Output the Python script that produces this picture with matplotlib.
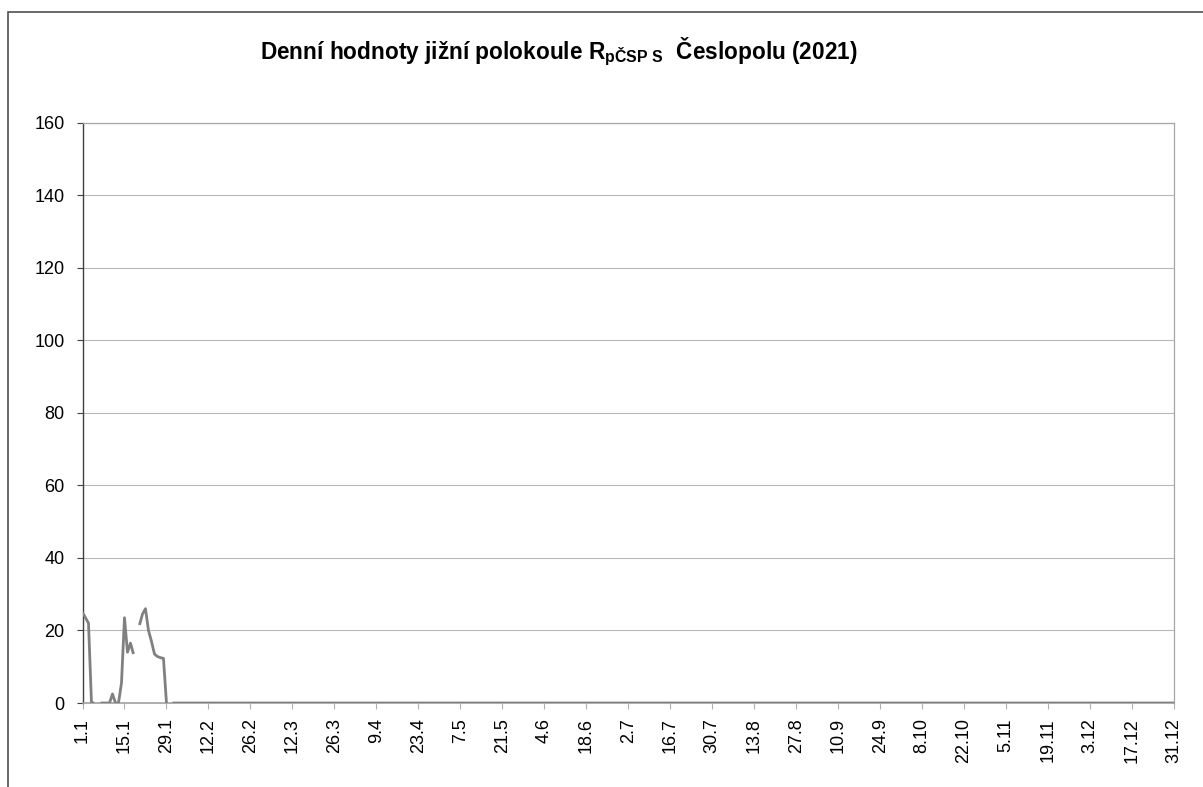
"""Daily values chart: southern hemisphere R index, 2021."""

import numpy as np
import matplotlib
matplotlib.use("Agg")
import matplotlib.pyplot as plt
from matplotlib.patches import Rectangle

plt.rcParams["font.family"] = ["Liberation Sans", "DejaVu Sans"]
plt.rcParams["mathtext.fontset"] = "custom"
plt.rcParams["mathtext.bf"] = "Liberation Sans:bold"
plt.rcParams["mathtext.rm"] = "Liberation Sans"

# --- data -----------------------------------------------------------------
# daily values for 1.1. - 29.1. (None = missing day), day 30 missing,
# then zero for the rest of the year
early_values = [25.0, 23.5, 22.0, 0.0, 0.0, None, 0.0, 0.0, 0.0, 0.0,
                2.5, 0.0, 0.0, 5.5, 23.5, 14.0, 16.5, 13.5, None, 21.5,
                24.5, 26.0, 20.0, 17.0, 13.5, 12.8, 12.5, 12.3, 0.0, None]
late_values = [0.0] * 335

tick_days = [1, 15, 29, 43, 57, 71, 85, 99, 113, 127, 141, 155, 169, 183,
             197, 211, 225, 239, 253, 267, 281, 295, 309, 323, 337, 351, 365]
tick_labels = ["1.1", "15.1", "29.1", "12.2", "26.2", "12.3", "26.3", "9.4",
               "23.4", "7.5", "21.5", "4.6", "18.6", "2.7", "16.7", "30.7",
               "13.8", "27.8", "10.9", "24.9", "8.10", "22.10", "5.11",
               "19.11", "3.12", "17.12", "31.12"]
y_ticks = [0, 20, 40, 60, 80, 100, 120, 140, 160]

values = np.array([np.nan if v is None else v for v in early_values + late_values])
days = np.arange(1, len(values) + 1)

# --- figure ---------------------------------------------------------------
W, H = 1203, 787
fig = plt.figure(figsize=(W / 100, H / 100), dpi=100)
ax = fig.add_axes([82.5 / W, 1 - 703 / H, (1174 - 82.5) / W, (703 - 122.5) / H])

ax.plot(days, values, color="#808080", linewidth=2.0, solid_capstyle="butt",
        solid_joinstyle="round", zorder=3)

ax.set_xlim(1, 365)
ax.set_ylim(0, 160)
ax.set_yticks(y_ticks)
ax.set_xticks(tick_days)
ax.set_xticklabels(tick_labels, rotation=90)
ax.tick_params(axis="y", direction="out", length=4.5, width=0.8, color="#404040",
               labelsize=13, pad=8.5)
ax.tick_params(axis="x", direction="out", length=4, width=0.8, color="#b0b0b0",
               labelsize=13, pad=7)

ax.grid(axis="y", color="#b8b8b8", linewidth=0.8)
ax.set_axisbelow(True)
ax.spines["left"].set_color("#404040")
ax.spines["left"].set_linewidth(1.0)
ax.spines["bottom"].set_color("#a0a0a0")
ax.spines["bottom"].set_linewidth(1.2)
for side in ("top", "right"):
    ax.spines[side].set_color("#a6a6a6")
    ax.spines[side].set_linewidth(0.9)

fig.text(260 / W, 1 - 59 / H,
         r"Denní hodnoty jižní polokoule R$_{\mathbf{pČSP\ S}}$  Česlopolu (2021)",
         ha="left", va="baseline", fontsize=16.3, fontweight="bold")

# outer chart frame (cut by the picture edge on the right and bottom)
fig.patches.append(Rectangle((7.5 / W, -0.05), 1.2, 1.05 - 12.5 / H,
                             transform=fig.transFigure, fill=False,
                             edgecolor="#505050", linewidth=1.2))

fig.savefig("out.png", dpi=100)
